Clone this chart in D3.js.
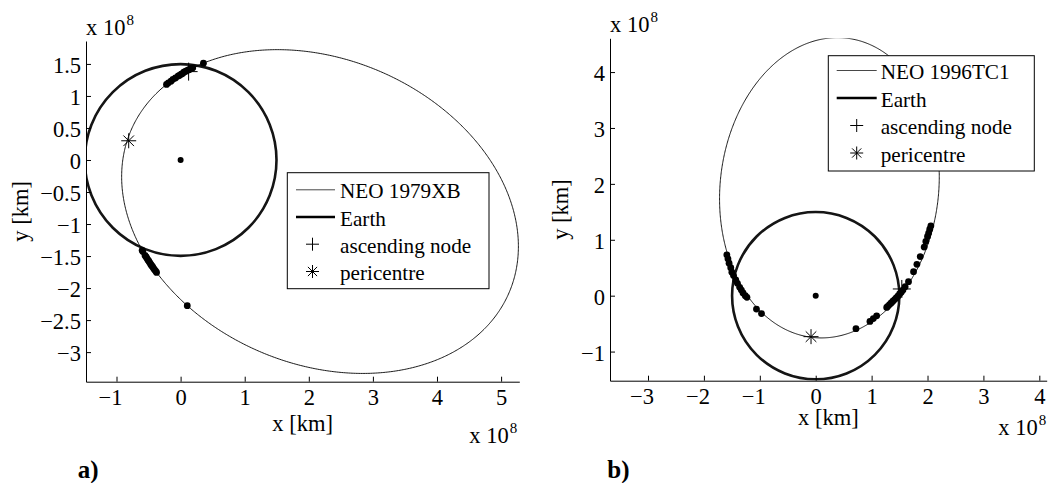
<!DOCTYPE html>
<html>
<head>
<meta charset="utf-8">
<script src="https://cdn.jsdelivr.net/npm/d3@7"></script>
<style>
  html, body { margin: 0; padding: 0; background: #fff; }
  svg { display: block; font-family: "Liberation Serif", "Times New Roman", serif; }
</style>
</head>
<body>
<svg id="fig" width="1052" height="483"></svg>
<script>
// All distances are in units of 10^8 km.
const earthRadius = 1.496;
const sunPos = [0, 0];

// ---- Panel a) NEO 1979XB ----
const xTicksA = [-1, 0, 1, 2, 3, 4, 5];
const yTicksA = [-3, -2.5, -2, -1.5, -1, -0.5, 0, 0.5, 1, 1.5];
const xDomainA = [-1.476, 5.284];
const yDomainA = [-3.462, 1.858];
// projected orbit ellipse: centre, semi-axes, tilt of major axis (deg)
const orbitCenterA = [2.175, -0.805];
const orbitAxesA = [3.21, 2.38];
const orbitTiltA = -23.3;
const nodeA = [0.125, 1.38];
const periA = [-0.81, 0.30];
// close-approach positions of the NEO
const approachXA = [0.356, -0.22, -0.19, -0.15, -0.12, -0.08, -0.04, -0.02, 0.01, 0.03, 0.05, 0.07, 0.09, 0.11, 0.13, 0.15, 0.17, 0.19,
                    -0.60, -0.59, -0.555, -0.54, -0.525, -0.51, -0.495, -0.48, -0.465, -0.45, -0.435, -0.42, -0.405, -0.39, -0.375, 0.104];
const approachYA = [1.512, 1.18, 1.205, 1.23, 1.26, 1.28, 1.31, 1.32, 1.34, 1.35, 1.37, 1.38, 1.39, 1.40, 1.41, 1.42, 1.43, 1.44,
                    -1.41, -1.43, -1.49, -1.51, -1.535, -1.56, -1.58, -1.605, -1.63, -1.65, -1.67, -1.695, -1.715, -1.735, -1.755, -2.275];

// ---- Panel b) NEO 1996TC1 ----
const xTicksB = [-3, -2, -1, 0, 1, 2, 3, 4];
const yTicksB = [-1, 0, 1, 2, 3, 4];
const xDomainB = [-3.68, 4.132];
const yDomainB = [-1.521, 4.604];
const orbitCenterB = [0.245, 1.93];
const orbitAxesB = [2.694, 1.954];
const orbitTiltB = 83.5;
const nodeB = [1.54, 0.12];
const periB = [-0.084, -0.733];
const approachXB = [-1.59, -1.57, -1.55, -1.52, -1.50, -1.47, -1.43, -1.40, -1.36, -1.33, -1.30, -1.26, -1.23, -1.06, -0.97,
                    0.72, 0.97, 1.03, 1.09, 1.27, 1.29, 1.32, 1.35, 1.38, 1.41, 1.44, 1.47, 1.50, 1.53, 1.56, 1.60, 1.66, 1.75, 1.81, 1.87, 1.94, 1.97, 2.00, 2.02, 2.04, 2.06];
const approachYB = [0.73, 0.66, 0.58, 0.50, 0.42, 0.36, 0.28, 0.22, 0.15, 0.10, 0.05, 0.00, -0.03, -0.24, -0.32,
                    -0.59, -0.46, -0.41, -0.36, -0.21, -0.19, -0.16, -0.13, -0.10, -0.07, -0.04, -0.01, 0.03, 0.06, 0.10, 0.16, 0.25, 0.43, 0.56, 0.70, 0.87, 0.97, 1.06, 1.12, 1.19, 1.25];

const legendLabels = ["Earth", "ascending node", "pericentre"];

// ---- Layout ----
const svg = d3.select("#fig");
const FONT = 22.5;      // ticks and axis titles
const LEG_FONT = 21.2;  // legend entries

const panels = [
  {
    id: "a", name: "NEO 1979XB",
    frame: { left: 86, right: 519.3, top: 41, bottom: 381.7 },
    xDomain: xDomainA, yDomain: yDomainA, xTicks: xTicksA, yTicks: yTicksA,
    center: orbitCenterA, axes: orbitAxesA, tilt: orbitTiltA,
    node: nodeA, peri: periA, ax: approachXA, ay: approachYA,
    xLabelBase: 431, yLabelX: 28, expTop: [86, 35], expBottom: [469.3, 443],
    tag: [77.7, 478],
    legend: { x0: 287.3, y0: 172.7, x1: 489, y1: 288.7, lineX: [296, 335], markX: 312.5, textX: 340, base: [198.3, 225.5, 252.7, 280] }
  },
  {
    id: "b", name: "NEO 1996TC1",
    frame: { left: 610, right: 1046.7, top: 38.3, bottom: 380.7 },
    xDomain: xDomainB, yDomain: yDomainB, xTicks: xTicksB, yTicks: yTicksB,
    center: orbitCenterB, axes: orbitAxesB, tilt: orbitTiltB,
    node: nodeB, peri: periB, ax: approachXB, ay: approachYB,
    xLabelBase: 424.5, yLabelX: 568, expTop: [610, 31.7], expBottom: [998.3, 435],
    tag: [607.3, 478],
    legend: { x0: 828.3, y0: 55.7, x1: 1034.3, y1: 171, lineX: [836.7, 876.7], markX: 856.7, textX: 880.7, base: [79, 106.5, 134, 161.5] }
  }
];

const fmt = v => String(v).replace("-", "\u2212");

function plusPath(cx, cy, s) {
  const h = s / 2;
  return `M${cx - h},${cy}H${cx + h}M${cx},${cy - h}V${cy + h}`;
}
function starPath(cx, cy, s) {
  const h = s / 2, d = h * Math.SQRT1_2;
  return `M${cx - h},${cy}H${cx + h}M${cx},${cy - h}V${cy + h}` +
         `M${cx - d},${cy - d}L${cx + d},${cy + d}M${cx - d},${cy + d}L${cx + d},${cy - d}`;
}

function exponentLabel(g, x, y) {
  const t = g.append("text").attr("x", x).attr("y", y).attr("font-size", FONT).attr("fill", "#000");
  t.append("tspan").text("x 10");
  t.append("tspan").attr("font-size", 15).attr("dx", 1).attr("dy", -10).text("8");
}

panels.forEach(p => {
  const f = p.frame;
  const x = d3.scaleLinear().domain(p.xDomain).range([f.left, f.right]);
  const y = d3.scaleLinear().domain(p.yDomain).range([f.bottom, f.top]);
  const g = svg.append("g");

  const clipId = "clip-" + p.id;
  svg.append("clipPath").attr("id", clipId)
    .append("rect").attr("x", f.left).attr("y", f.top)
    .attr("width", f.right - f.left).attr("height", f.bottom - f.top);
  const plot = g.append("g").attr("clip-path", `url(#${clipId})`);

  // Earth orbit
  plot.append("circle")
    .attr("cx", x(sunPos[0])).attr("cy", y(sunPos[1]))
    .attr("r", x(earthRadius) - x(0))
    .attr("fill", "none").attr("stroke", "#151515").attr("stroke-width", 2.6);

  // NEO orbit (projected ellipse)
  const phi = p.tilt * Math.PI / 180;
  const [a, b] = p.axes;
  const pts = d3.range(0, 360.5, 0.5).map(deg => {
    const t = deg * Math.PI / 180;
    const ex = a * Math.cos(t), ey = b * Math.sin(t);
    return [p.center[0] + ex * Math.cos(phi) - ey * Math.sin(phi),
            p.center[1] + ex * Math.sin(phi) + ey * Math.cos(phi)];
  });
  plot.append("path")
    .attr("d", d3.line().x(d => x(d[0])).y(d => y(d[1]))(pts))
    .attr("fill", "none").attr("stroke", "#000").attr("stroke-width", 0.9);

  // close approaches
  plot.selectAll("circle.app").data(d3.range(p.ax.length)).join("circle")
    .attr("class", "app")
    .attr("cx", i => x(p.ax[i])).attr("cy", i => y(p.ay[i]))
    .attr("r", 3.4).attr("fill", "#000");

  // Sun
  plot.append("circle").attr("cx", x(sunPos[0])).attr("cy", y(sunPos[1])).attr("r", 3).attr("fill", "#000");

  // ascending node and pericentre
  plot.append("path").attr("d", plusPath(x(p.node[0]), y(p.node[1]), 18))
    .attr("stroke", "#000").attr("stroke-width", 1).attr("fill", "none");
  plot.append("path").attr("d", starPath(x(p.peri[0]), y(p.peri[1]), 15))
    .attr("stroke", "#000").attr("stroke-width", 1).attr("fill", "none");

  // axes (left and bottom, ticks pointing inward)
  const yAxis = g.append("g").attr("transform", `translate(${f.left},0)`)
    .call(d3.axisLeft(y).tickValues(p.yTicks).tickFormat(fmt).tickSizeInner(-5).tickSizeOuter(0).tickPadding(5));
  const xAxis = g.append("g").attr("transform", `translate(0,${f.bottom})`)
    .call(d3.axisBottom(x).tickValues(p.xTicks).tickFormat(fmt).tickSizeInner(-5).tickSizeOuter(0));
  [xAxis, yAxis].forEach(ax => {
    ax.attr("font-family", null).attr("font-size", FONT);
    ax.select(".domain").attr("stroke", "#000").attr("stroke-width", 1);
    ax.selectAll(".tick line").attr("stroke", "#000").attr("stroke-width", 1);
    ax.selectAll(".tick text").attr("fill", "#000");
  });
  yAxis.selectAll(".tick text").attr("dy", "0.38em");
  xAxis.selectAll(".tick text").attr("y", 23.5).attr("dy", 0).attr("dx", d => d < 0 ? -6.5 : 0);

  // axis titles
  g.append("text").attr("x", (f.left + f.right) / 2).attr("y", p.xLabelBase)
    .attr("text-anchor", "middle").attr("font-size", FONT).text("x [km]");
  g.append("text").attr("transform", `translate(${p.yLabelX},${(f.top + f.bottom) / 2}) rotate(-90)`)
    .attr("text-anchor", "middle").attr("font-size", FONT).text("y [km]");
  exponentLabel(g, p.expTop[0], p.expTop[1]);
  exponentLabel(g, p.expBottom[0], p.expBottom[1]);

  // panel tag
  g.append("text").attr("x", p.tag[0]).attr("y", p.tag[1])
    .attr("font-size", 25).attr("font-weight", "bold").text(p.id + ")");

  // legend
  const L = p.legend;
  const lg = g.append("g");
  lg.append("rect").attr("x", L.x0).attr("y", L.y0).attr("width", L.x1 - L.x0).attr("height", L.y1 - L.y0)
    .attr("fill", "#fff").attr("stroke", "#000").attr("stroke-width", 1);
  const labels = [p.name].concat(legendLabels);
  labels.forEach((lab, i) => {
    const base = L.base[i], cy = base - 8.5;
    if (i === 0) {
      lg.append("line").attr("x1", L.lineX[0]).attr("x2", L.lineX[1]).attr("y1", cy).attr("y2", cy)
        .attr("stroke", "#333").attr("stroke-width", 0.9);
    } else if (i === 1) {
      lg.append("line").attr("x1", L.lineX[0]).attr("x2", L.lineX[1]).attr("y1", cy).attr("y2", cy)
        .attr("stroke", "#000").attr("stroke-width", 2.6);
    } else if (i === 2) {
      lg.append("path").attr("d", plusPath(L.markX, cy, 13)).attr("stroke", "#000").attr("fill", "none");
    } else {
      lg.append("path").attr("d", starPath(L.markX, cy, 13)).attr("stroke", "#000").attr("fill", "none");
    }
    lg.append("text").attr("x", L.textX).attr("y", base).attr("font-size", LEG_FONT).text(lab);
  });
});
</script>
</body>
</html>
